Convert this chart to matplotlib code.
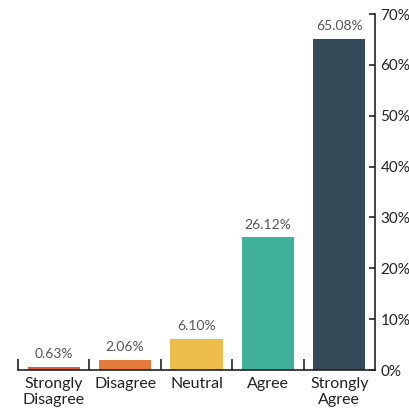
import matplotlib.pyplot as plt
from matplotlib.ticker import FixedLocator, FuncFormatter

categories = ['Strongly\nDisagree', 'Disagree', 'Neutral', 'Agree', 'Strongly\nAgree']
values = [0.63, 2.06, 6.10, 26.12, 65.08]
colors = ['#E05B45', '#E47B3A', '#EDBD4A', '#41B09A', '#344A59']

plt.rcParams['font.family'] = ['Lato', 'DejaVu Sans']

fig = plt.figure(figsize=(4.09, 4.13), dpi=100)
ax = fig.add_axes([18 / 409, 43 / 413, 357 / 409, 356 / 413])

x = range(len(categories))
bars = ax.bar(x, values, width=0.73, color=colors)

for xi, v in zip(x, values):
    ax.text(xi, v + 1.3, f'{v:.2f}%', ha='center', va='bottom', fontsize=10, color='#555555')

ax.set_xlim(-0.5, 4.5)
ax.set_ylim(0, 70)

# right-hand y axis
ax.yaxis.tick_right()
ax.set_yticks(range(0, 71, 10))
ax.yaxis.set_major_formatter(FuncFormatter(lambda v, p: f'{int(v)}%'))
ax.tick_params(axis='y', direction='in', length=4, width=1.2, labelsize=11, pad=4, colors='#222222')

# category labels at centers, tick marks at boundaries
ax.set_xticks(list(x))
ax.set_xticklabels(categories, fontsize=11.5, color='#222222', linespacing=1.2)
ax.tick_params(axis='x', which='major', length=0, pad=5)
ax.xaxis.set_minor_locator(FixedLocator([-0.5, 0.5, 1.5, 2.5, 3.5]))
ax.tick_params(axis='x', which='minor', direction='in', length=8, width=1.2, color='#222222')

for s in ['top', 'left']:
    ax.spines[s].set_visible(False)
for s in ['bottom', 'right']:
    ax.spines[s].set_linewidth(1.2)
    ax.spines[s].set_color('#222222')

fig.savefig('out.png', dpi=100)
